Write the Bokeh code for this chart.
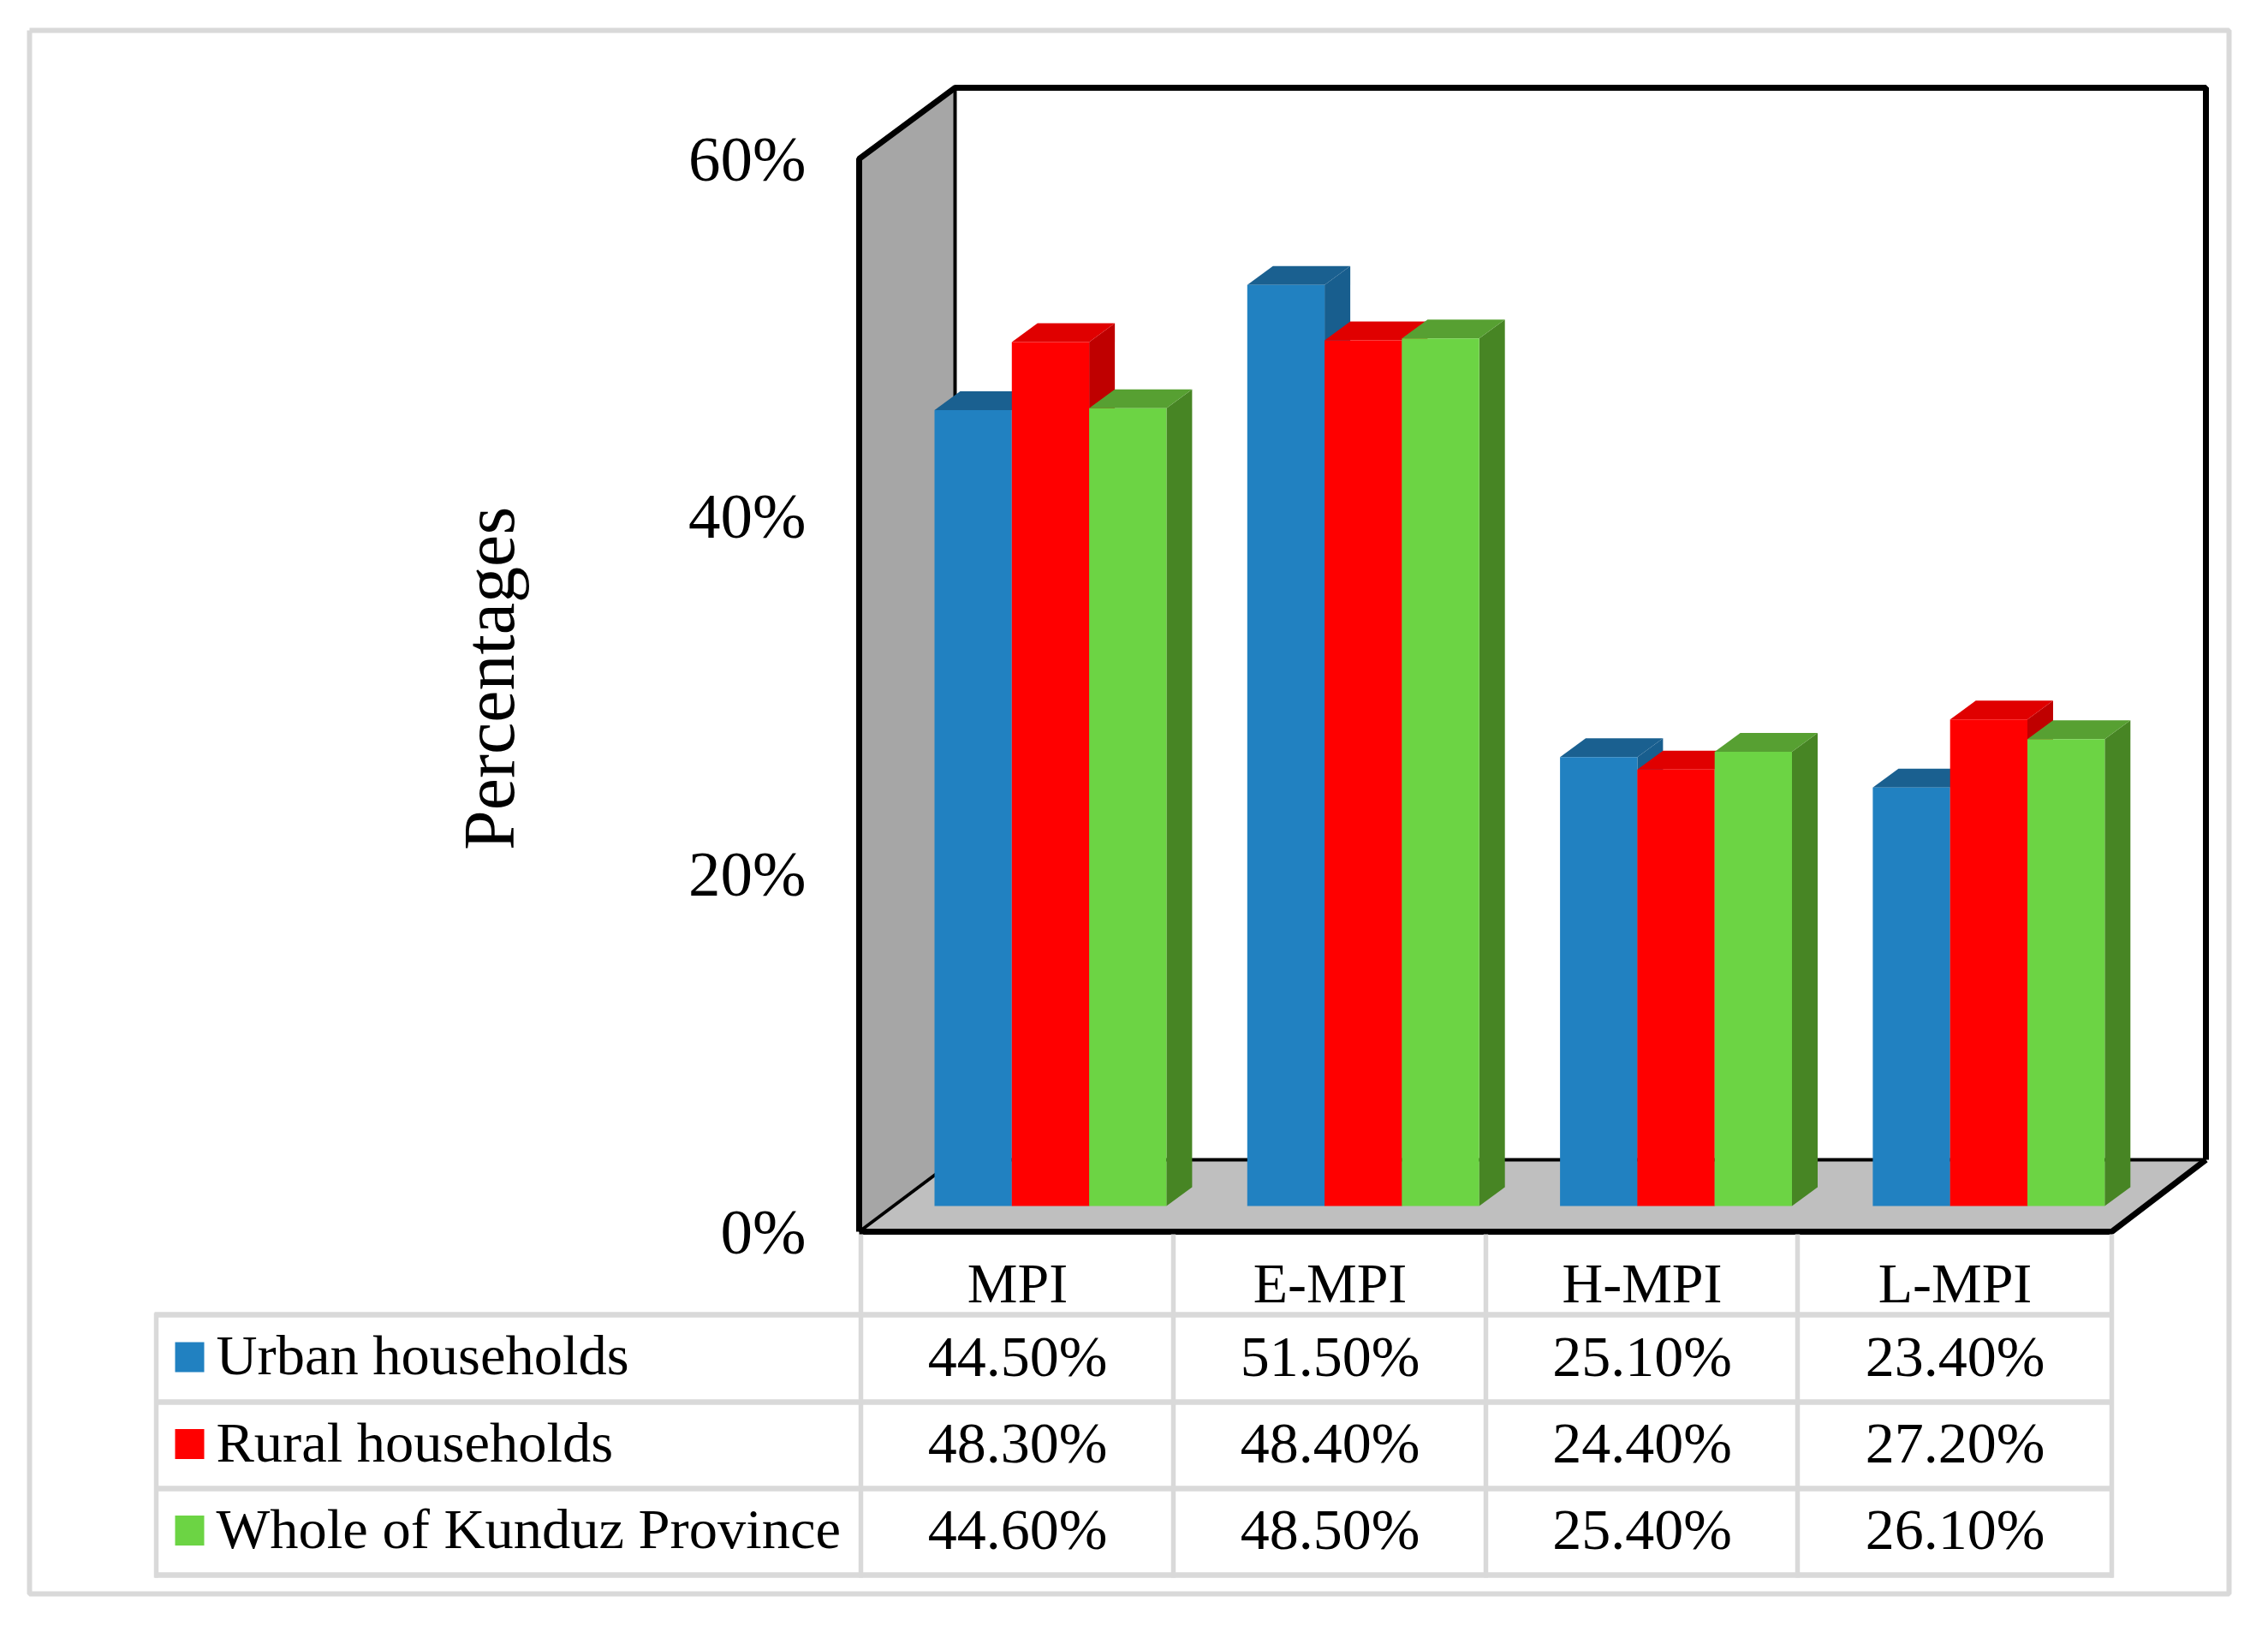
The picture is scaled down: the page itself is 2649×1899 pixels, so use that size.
from bokeh.plotting import figure
from bokeh.models import Range1d
from bokeh.core.properties import value
from bokeh.embed import file_html
from bokeh.resources import INLINE

categories = ["MPI", "E-MPI", "H-MPI", "L-MPI"]
series_names = ["Urban households", "Rural households", "Whole of Kunduz Province"]
urban = [44.5, 51.5, 25.1, 23.4]
rural = [48.3, 48.4, 24.4, 27.2]
whole = [44.6, 48.5, 25.4, 26.1]
y_ticks = [0, 20, 40, 60]
y_title = "Percentages"

front = ["#2181C1", "#FF0000", "#6CD444"]
top_c = ["#1A6090", "#E00000", "#57A032"]
side = ["#185E8E", "#BF0000", "#478524"]
FONT = value("Liberation Serif")
GRID = "#D9D9D9"

W, H = 2633, 1883
PX = 20.89        # pixels per percentage point
Y0 = 1438         # reference pixel row of 0%


def py(row):
    """reference pixel row -> percentage axis value"""
    return (Y0 - row) / PX


p = figure(width=W, height=H, output_backend="svg", toolbar_location=None,
           x_axis_type=None, y_axis_type=None,
           x_range=Range1d(0, W), y_range=Range1d(py(H), py(0)),
           min_border=0, outline_line_color=None, background_fill_color="white")
p.grid.visible = False

# outer frame
p.multi_line(xs=[[34, 2603, 2603, 34, 34]], ys=[[py(35), py(35), py(1861), py(1861), py(35)]],
             line_color=GRID, line_width=6)

# walls and floor
L, R, LB, RB = 1003, 2466, 1115, 2576
p.patch([L, LB, LB, L], [py(185), py(102), py(1354), py(1438)], fill_color="#A6A6A6", fill_alpha=1, line_color=None)
p.patch([L, LB, RB, R], [py(1438), py(1354), py(1354), py(1438)], fill_color="#BFBFBF", fill_alpha=1, line_color=None)
p.multi_line(xs=[[LB, LB], [L, LB], [LB, RB]],
             ys=[[py(102), py(1354)], [py(1438), py(1354)], [py(1354), py(1354)]],
             line_color="black", line_width=4)
p.multi_line(xs=[[L, L, LB, RB, RB], [L, R, RB]],
             ys=[[py(1438), py(185), py(102), py(102), py(1354)], [py(1438), py(1438), py(1354)]],
             line_color="black", line_width=7)

# bars
GROUP0, GROUP_STEP, BAR_W = 1091, 365.3, 90.3
DX, DY = 30, 22 / PX
BASE = 30 / PX
for g, cat in enumerate(categories):
    for s, vals in enumerate([urban, rural, whole]):
        x0 = GROUP0 + g * GROUP_STEP + s * BAR_W
        x1 = x0 + BAR_W
        b, t = BASE, BASE + vals[g]
        p.patch([x1, x1 + DX, x1 + DX, x1], [b, b + DY, t + DY, t], fill_color=side[s], fill_alpha=1, line_color=None)
        p.patch([x0, x0 + DX, x1 + DX, x1], [t, t + DY, t + DY, t], fill_color=top_c[s], fill_alpha=1, line_color=None)
        p.patch([x0, x1, x1, x0], [b, b, t, t], fill_color=front[s], fill_alpha=1, line_color=None)

# y tick labels and title
p.text(x=[941] * len(y_ticks), y=y_ticks, text=[f"{t}%" for t in y_ticks],
       text_font=FONT, text_font_size="75px", text_align="right", text_baseline="middle", text_color="black")
p.text(x=[571], y=[py(792)], text=[y_title], angle=1.5708,
       text_font=FONT, text_font_size="84px", text_align="center", text_baseline="middle", text_color="black")

# data table
cols = [1005, 1370, 1735, 2099, 2466]
rows = [1535, 1637, 1738, 1839]
for x in cols:
    p.line([x, x], [py(1441), py(1842)], line_color=GRID, line_width=5.5)
p.line([182, 182], [py(1533), py(1842)], line_color=GRID, line_width=5.5)
for r in rows:
    p.line([180, 2468], [py(r), py(r)], line_color=GRID, line_width=6.5)

centers = [(cols[i] + cols[i + 1]) / 2 + 0.5 for i in range(4)]
p.text(x=centers, y=[py(1498)] * 4, text=categories, text_font=FONT, text_font_size="66px",
       text_align="center", text_baseline="middle", text_color="black")
for s, vals in enumerate([urban, rural, whole]):
    rc = (rows[s] + rows[s + 1]) / 2 - 2
    p.text(x=centers, y=[py(rc - 1)] * 4, text=[f"{v:.2f}%" for v in vals], text_font=FONT,
           text_font_size="68px", text_align="center", text_baseline="middle", text_color="black")
    p.quad(left=[204], right=[238], top=[py(rc - 17)], bottom=[py(rc + 18)], fill_color=front[s], line_color=None)
    p.text(x=[252], y=[py(rc - 2)], text=[series_names[s]], text_font=FONT, text_font_size="66.5px",
           text_align="left", text_baseline="middle", text_color="black")

open("out.html", "w").write(file_html(p, INLINE))
